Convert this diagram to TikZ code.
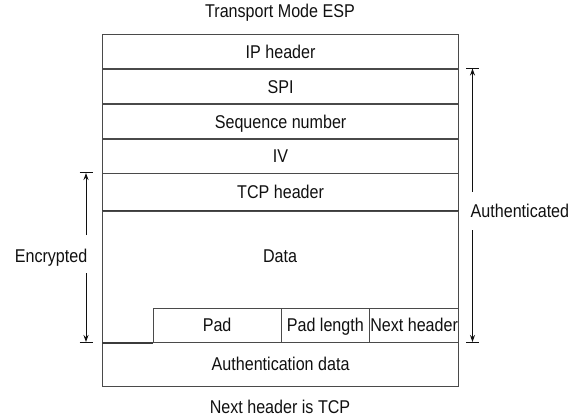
\documentclass[tikz,border=0pt]{standalone}
\usepackage{fontspec}
\setmainfont{Liberation Sans}[FakeStretch=0.87]
\usetikzlibrary{arrows.meta}
\definecolor{linegray}{HTML}{4A4A4A}
\definecolor{textcol}{HTML}{101010}
\begin{document}
\begin{tikzpicture}[x=1pt,y=-1pt,
  txt/.style={font=\fontsize{18.5}{21}\selectfont, text=textcol, inner sep=0pt, text height=13pt, text depth=0pt},
  field/.style={txt, draw=linegray, line width=1.2pt, anchor=north west, minimum width=356pt},
  sub/.style={txt, draw=linegray, line width=1.2pt, anchor=north west, minimum height=34.5pt},
  heavy/.style={draw=linegray!80!black, line width=1.8pt},
  dim/.style={draw=textcol, line width=1pt},
  dimarrow/.style={dim, -{Stealth[length=7pt,width=5pt]}}]
\useasboundingbox (0,0) rectangle (574,420);

% title and caption
\node[txt] (title) at (280,11) {Transport Mode ESP};
\node[txt] (caption) at (280,407) {Next header is TCP};

% packet fields
\node[field, minimum height=34.5pt] (ip) at (102,34) {IP header};
\node[field, minimum height=35pt] (spi) at (102,68.5) {SPI};
\node[field, minimum height=35pt] (seq) at (102,103.5) {Sequence number};
\node[field, minimum height=34.5pt] (iv) at (102,138.5) {IV};
\node[field, minimum height=37.5pt] (tcp) at (102,173) {TCP header};
\node[field, minimum height=131.5pt] (data) at (102,210.5) {};
\node[txt] (datal) at (280,256) {Data};
\node[sub, minimum width=128pt] (pad) at (152.5,307.5) {Pad};
\node[sub, minimum width=88.5pt] (padlen) at (280.5,307.5) {Pad length};
\node[sub, minimum width=89pt] (next) at (369,307.5) {Next header};
\node[field, minimum height=43.5pt] (auth) at (102,342) {Authentication data};

% heavier borders of the data field
\draw[heavy] (data.north west) -- (data.north east);
\draw[heavy] (data.south west) -- (pad.south west);

% Authenticated range
\coordinate (atop) at (472.5,68.5);
\coordinate (abot) at (472.5,342);
\coordinate (agap1) at (472.5,192);
\coordinate (agap2) at (472.5,230);
\node[txt, anchor=west] (authl) at (470.5,210.5) {Authenticated};
\draw[dimarrow] (agap1) -- (atop);
\draw[dimarrow] (agap2) -- (abot);
\draw[dim] ([xshift=-6.5pt]atop) -- ([xshift=6.5pt]atop);
\draw[dim] ([xshift=-6.5pt]abot) -- ([xshift=6.5pt]abot);

% Encrypted range
\coordinate (etop) at (86,173);
\coordinate (ebot) at (86,342);
\coordinate (egap1) at (86,235);
\coordinate (egap2) at (86,273);
\node[txt, anchor=east] (encl) at (87.5,255.5) {Encrypted};
\draw[dimarrow] (egap1) -- (etop);
\draw[dimarrow] (egap2) -- (ebot);
\draw[dim] ([xshift=-6.5pt]etop) -- ([xshift=6.5pt]etop);
\draw[dim] ([xshift=-6.5pt]ebot) -- ([xshift=6.5pt]ebot);
\end{tikzpicture}
\end{document}
